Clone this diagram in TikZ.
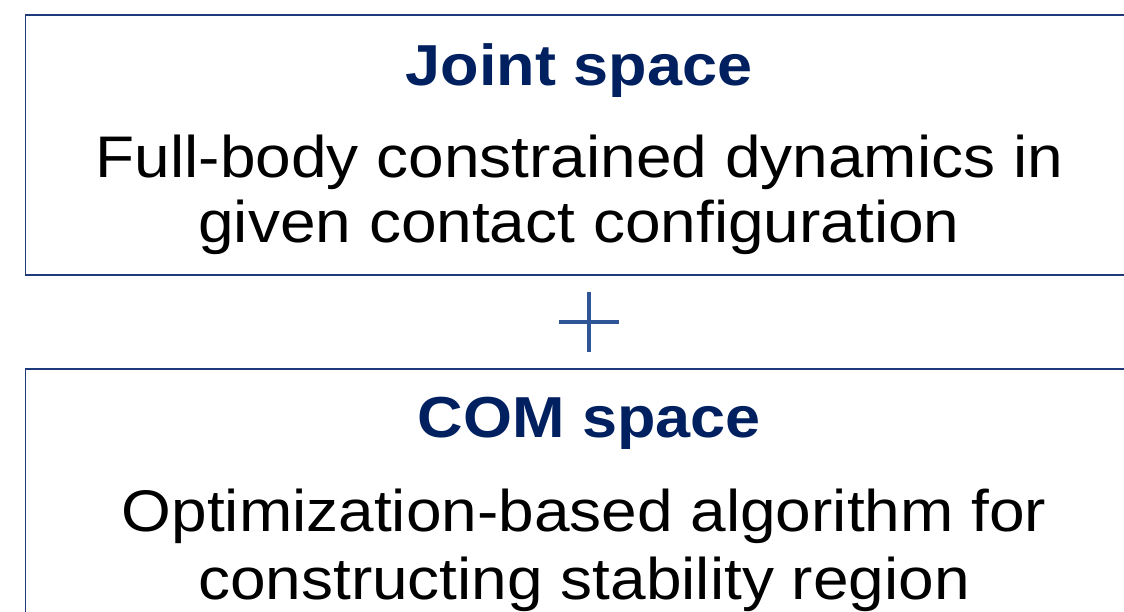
\documentclass[tikz,border=0pt]{standalone}
\usepackage{fontspec}
\setmainfont{Liberation Sans}[FakeStretch=1.09]
\definecolor{titlenavy}{HTML}{002060}
\definecolor{boxline}{HTML}{1F3A7A}
\definecolor{plusblue}{HTML}{2F5597}
\begin{document}
\begin{tikzpicture}[x=1pt,y=-1pt,
  panel/.style={draw=boxline,line width=1.5pt,fill=white},
  heading/.style={anchor=base,inner sep=0pt,font=\fontsize{57.8}{64}\selectfont\bfseries,text=titlenavy},
  bodyline/.style={anchor=base,inner sep=0pt,font=\fontsize{58.7}{65}\selectfont,text=black},
  plusbar/.style={draw=plusblue,line width=4pt}]
\useasboundingbox (0,0) rectangle (1124,611);
\clip (0,0) rectangle (1124,611);
\fill[white] (0,0) rectangle (1124,611);
% panels
\draw[panel] (25.5,15) rectangle (1200,275);
\draw[panel] (25.5,369) rectangle (1200,700);
% plus sign
\coordinate (pt) at (589,292);
\coordinate (pb) at (589,352);
\coordinate (pl) at (559,322);
\coordinate (pr) at (619,322);
\draw[plusbar] (pt) -- (pb);
\draw[plusbar] (pl) -- (pr);
% texts
\node[heading] (h1) at (579,85) {Joint space};
\node[bodyline] (l1) at (579.5,177) {Full-body constrained dynamics in};
\node[bodyline] (l2) at (579,242) {given contact configuration};
\node[heading] (h2) at (589.5,437) {COM space};
\node[bodyline] (l3) at (584,531) {Optimization-based algorithm for};
\node[bodyline] (l4) at (584,599) {constructing stability region};
\end{tikzpicture}
\end{document}
